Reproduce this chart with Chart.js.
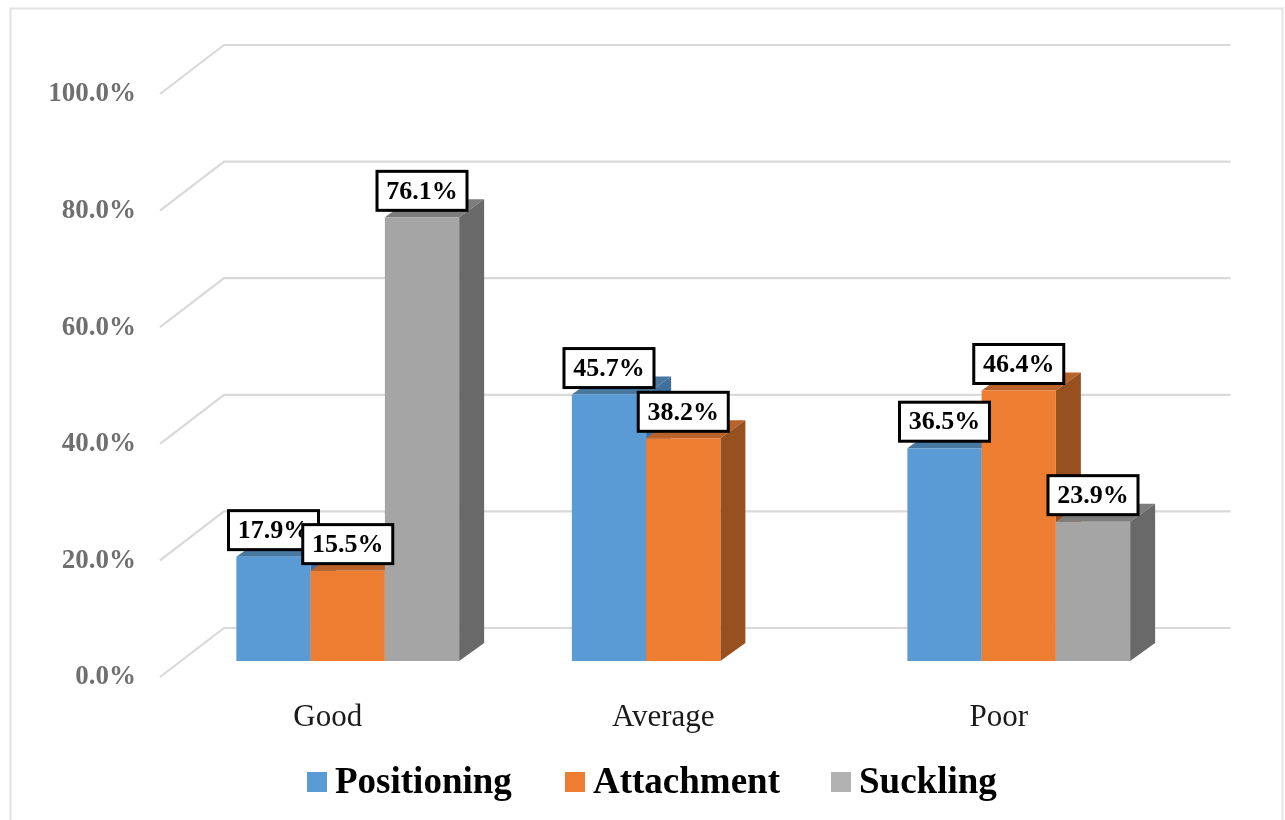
<!DOCTYPE html>
<html>
<head>
<meta charset="utf-8">
<style>html,body{margin:0;padding:0;background:#fff;overflow:hidden}canvas{display:block}</style>
<script src="https://cdn.jsdelivr.net/npm/chart.js@4/dist/chart.umd.js"></script>
</head>
<body>
<canvas id="c" width="1285" height="820"></canvas>
<script>
const categories = ['Good', 'Average', 'Poor'];
const positioning = [17.9, 45.7, 36.5];
const attachment = [15.5, 38.2, 46.4];
const suckling = [76.1, null, 23.9];
const seriesNames = ['Positioning', 'Attachment', 'Suckling'];
const frontColors = ['#5b9bd5', '#ed7d31', '#a5a5a5'];
const topColors = ['#47789f', '#b9622a', '#7d7d7d'];
const sideColors = ['#3f6f9c', '#97501f', '#696969'];
const legendColors = ['#5b9bd5', '#ed7d31', '#b2b2b2'];
const legendBoxX = [307, 565, 831];

const SERIF = '"Liberation Serif", "Times New Roman", serif';
const SHIFT = 20, DX = 25, DY = -18;

const scene = {
  id: 'scene',
  beforeDraw(chart) {
    const c = chart.ctx;
    c.save();
    c.fillStyle = '#fff';
    c.fillRect(0, 0, chart.width, chart.height);
    c.strokeStyle = '#e2e2e2';
    c.lineWidth = 2;
    c.strokeRect(10.5, 8.5, 1272, 830);
    c.restore();
  },
  beforeDatasetsDraw(chart) {
    const c = chart.ctx, y = chart.scales.y, a = chart.chartArea;
    c.save();
    c.strokeStyle = '#d9d9d9';
    c.lineWidth = 2.2;
    y.ticks.forEach(t => {
      const p = y.getPixelForValue(t.value);
      c.beginPath();
      c.moveTo(a.left, p + 16);
      c.lineTo(a.left + 64, p - 33);
      c.lineTo(a.right + 64, p - 33);
      c.stroke();
    });
    c.restore();
    c.save();
    c.translate(SHIFT, 0);
    chart.data.datasets.forEach((ds, i) => {
      const meta = chart.getDatasetMeta(i);
      meta.data.forEach((b, j) => {
        if (ds.data[j] == null) return;
        const L = b.x - b.width / 2, R = b.x + b.width / 2;
        c.fillStyle = topColors[i];
        c.beginPath();
        c.moveTo(L, b.y); c.lineTo(L + DX, b.y + DY); c.lineTo(R + DX, b.y + DY); c.lineTo(R, b.y);
        c.closePath(); c.fill();
        c.fillStyle = sideColors[i];
        c.beginPath();
        c.moveTo(R, b.y); c.lineTo(R + DX, b.y + DY); c.lineTo(R + DX, b.base + DY); c.lineTo(R, b.base);
        c.closePath(); c.fill();
      });
      meta.controller.draw();
    });
    c.restore();
    return false;
  },
  afterDraw(chart) {
    const c = chart.ctx;
    c.save();
    c.textAlign = 'center';
    c.textBaseline = 'middle';
    chart.data.datasets.forEach((ds, i) => {
      chart.getDatasetMeta(i).data.forEach((b, j) => {
        const v = ds.data[j];
        if (v == null) return;
        const cx = b.x + SHIFT, cy = b.y - 26.5;
        c.fillStyle = '#fff';
        c.fillRect(cx - 45, cy - 19.5, 90, 39);
        c.strokeStyle = '#000';
        c.lineWidth = 3;
        c.strokeRect(cx - 45, cy - 19.5, 90, 39);
        c.fillStyle = '#000';
        c.font = 'bold 26px ' + SERIF;
        c.fillText(v.toFixed(1) + '%', cx, cy + 1);
      });
    });
    c.textAlign = 'left';
    chart.data.datasets.forEach((ds, i) => {
      c.fillStyle = legendColors[i];
      c.fillRect(legendBoxX[i], 772, 20, 20);
      c.fillStyle = '#000';
      c.font = 'bold 37px ' + SERIF;
      c.fillText(ds.label, legendBoxX[i] + 28, 783);
    });
    c.restore();
  }
};

new Chart(document.getElementById('c'), {
  type: 'bar',
  data: {
    labels: categories,
    datasets: [
      { label: seriesNames[0], data: positioning, backgroundColor: frontColors[0] },
      { label: seriesNames[1], data: attachment, backgroundColor: frontColors[1] },
      { label: seriesNames[2], data: suckling, backgroundColor: frontColors[2] }
    ]
  },
  options: {
    responsive: false,
    animation: false,
    devicePixelRatio: 1,
    layout: { padding: { left: 10, right: 118.5, top: 78, bottom: 59 } },
    datasets: { bar: { categoryPercentage: 0.664, barPercentage: 1, borderWidth: 0 } },
    plugins: { legend: { display: false }, tooltip: { enabled: false }, title: { display: false } },
    scales: {
      x: {
        grid: { display: false }, border: { display: false },
        afterFit(s) { s.height = 100; },
        ticks: { color: '#1a1a1a', font: { family: SERIF, size: 31 }, padding: 30, maxRotation: 0 }
      },
      y: {
        min: 0, max: 100,
        grid: { display: false }, border: { display: false },
        afterFit(s) { s.width = 150; },
        ticks: {
          stepSize: 20, color: '#6f6f6f', padding: 16, labelOffset: 16.5,
          font: { family: SERIF, size: 27, weight: 'bold' },
          callback: v => v.toFixed(1) + '%'
        }
      }
    }
  },
  plugins: [scene]
});
</script>
</body>
</html>
